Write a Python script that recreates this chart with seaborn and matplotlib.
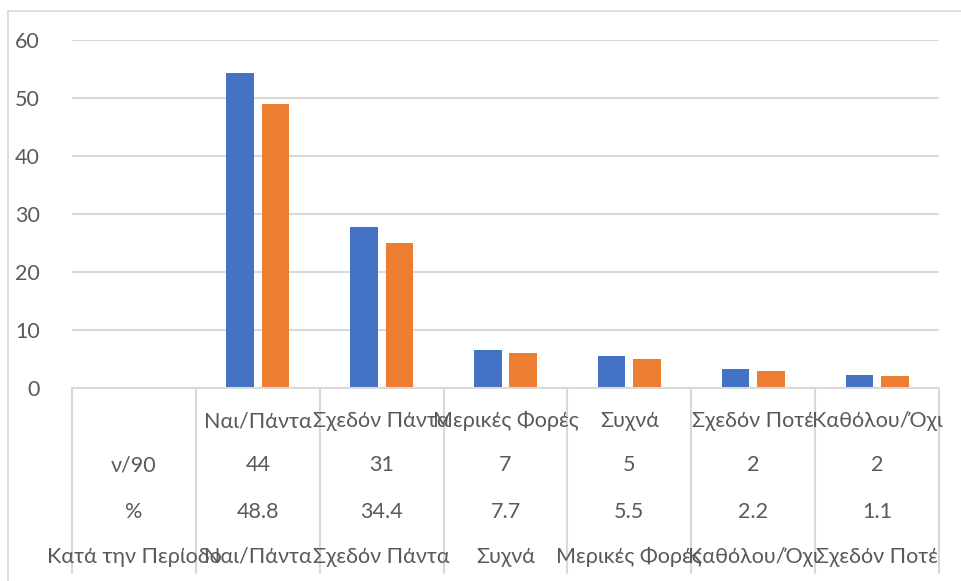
import numpy as np
import pandas as pd
import matplotlib.pyplot as plt
import seaborn as sns
from matplotlib.patches import Rectangle

# ── Data ─────────────────────────────────────────────────────
categories = ['', 'Ναι/Πάντα', 'Σχεδόν Πάντα', 'Μερικές Φορές', 'Συχνά',
              'Σχεδόν Ποτέ', 'Καθόλου/Όχι']
bar_cats = categories[1:]
series_a = [54.4, 27.7, 6.6, 5.5, 3.3, 2.2]     # blue
series_b = [49, 25, 6, 5, 3, 2]                 # orange

# table rows below the axis (first column holds the row headers)
row_counts = ['ν/90', '44', '31', '7', '5', '2', '2']
row_pct = ['%', '48.8', '34.4', '7.7', '5.5', '2.2', '1.1']
row_period = ['Κατά την Περίοδο', 'Ναι/Πάντα', 'Σχεδόν Πάντα', 'Συχνά',
              'Μερικές Φορές', 'Καθόλου/Όχι', 'Σχεδόν Ποτέ']

df = pd.DataFrame({
    'cat': bar_cats * 2,
    'value': series_a + series_b,
    'series': ['A'] * len(bar_cats) + ['B'] * len(bar_cats),
})

sns.set_theme(style='white')
plt.rcParams['font.family'] = ['Lato', 'DejaVu Sans']

TXT = '#595959'
GRID = '#D9D9D9'
FS = 15.5

W, H = 961, 581
fig = plt.figure(figsize=(W / 100, H / 100), dpi=100)
fig.patch.set_facecolor('white')

# chart border
fig.patches.append(Rectangle((8 / W, -0.1), 2.0, (H - 11) / H + 0.1,
                             transform=fig.transFigure, fill=False,
                             edgecolor=GRID, linewidth=1.2))

ax = fig.add_axes([72 / W, (H - 388) / H, (939 - 72) / W, (388 - 40.3) / H])

sns.barplot(data=df, x='cat', y='value', hue='series', order=categories,
            palette=['#4472C4', '#ED7D31'], saturation=1,
            width=0.573, gap=0.225, linewidth=0, legend=False, ax=ax)

ax.set_xlim(-0.5, len(categories) - 0.5)
ax.set_ylim(0, 60)
ax.set_yticks(range(0, 61, 10))
ax.yaxis.grid(True, color=GRID, linewidth=1.5)
ax.set_axisbelow(True)
for s in ax.spines.values():
    s.set_visible(False)
ax.tick_params(axis='y', length=0, pad=23, labelsize=FS, labelcolor=TXT)
ax.set_xticks([])
ax.set_xlabel('')
ax.set_ylabel('')

# axis line + table
tr = ax.get_xaxis_transform()
ax.plot([-0.5, len(categories) - 0.5], [0, 0], color=GRID, lw=1.5,
        transform=tr, clip_on=False)
for xv in np.arange(-0.5, len(categories), 1.0):
    ax.plot([xv, xv], [0, -0.532], color=GRID, lw=1.5,
            transform=tr, clip_on=False)

rows = [(categories, -0.095), (row_counts, -0.222),
        (row_pct, -0.357), (row_period, -0.486)]
for labels, yv in rows:
    for i, lab in enumerate(labels):
        ax.text(i, yv, lab, transform=tr, ha='center', va='center',
                fontsize=FS, color=TXT, clip_on=False)

fig.savefig('out.png', dpi=100)
